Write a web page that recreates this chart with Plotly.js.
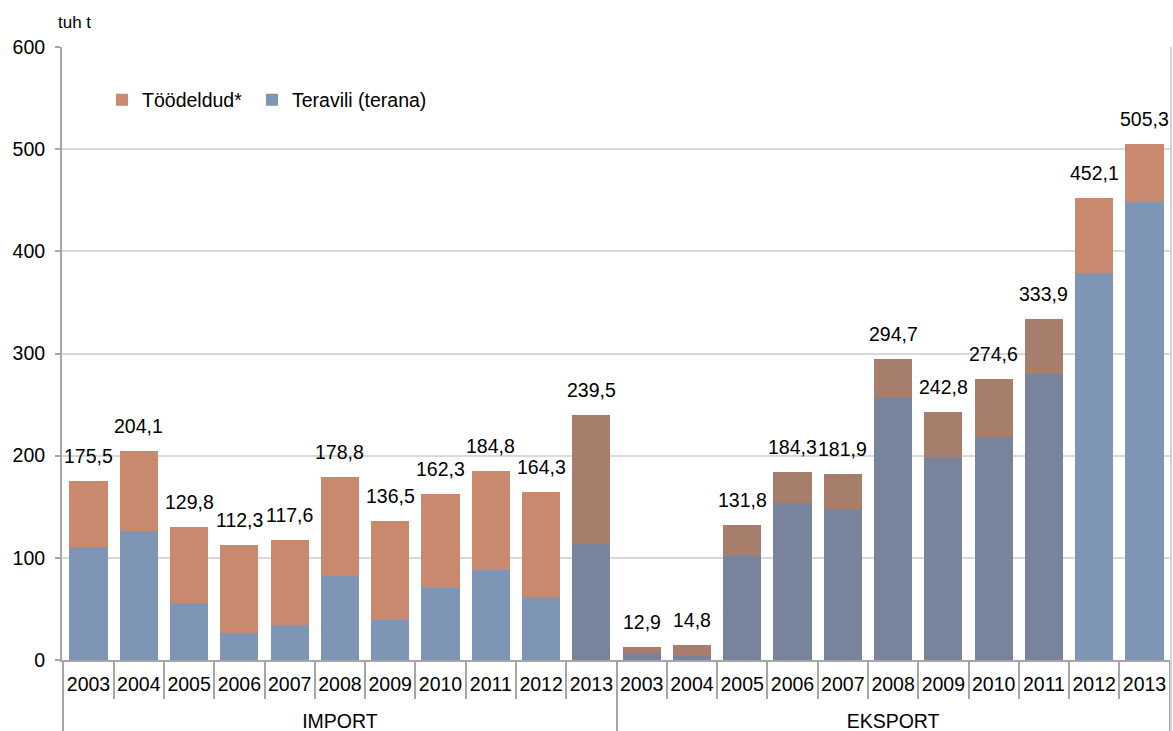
<!DOCTYPE html>
<html>
<head>
<meta charset="utf-8">
<script src="https://cdn.plot.ly/plotly-3.0.1.min.js"></script>
<style>html,body{margin:0;padding:0;background:#fff;}#chart{width:1173px;height:731px;}</style>
</head>
<body>
<div id="chart"></div>
<script>
// ---- data ----
var groups = ["IMPORT","IMPORT","IMPORT","IMPORT","IMPORT","IMPORT","IMPORT","IMPORT","IMPORT","IMPORT","IMPORT",
              "EKSPORT","EKSPORT","EKSPORT","EKSPORT","EKSPORT","EKSPORT","EKSPORT","EKSPORT","EKSPORT","EKSPORT","EKSPORT"];
var years = ["2003","2004","2005","2006","2007","2008","2009","2010","2011","2012","2013",
             "2003","2004","2005","2006","2007","2008","2009","2010","2011","2012","2013"];
var totals = [175.5,204.1,129.8,112.3,117.6,178.8,136.5,162.3,184.8,164.3,239.5,
              12.9,14.8,131.8,184.3,181.9,294.7,242.8,274.6,333.9,452.1,505.3];
var teravili = [111,126.5,55.5,26.7,34.3,82,39,70.5,88,61.4,113.8,
                6.8,4,102,153.7,147.8,256,197.5,218.5,279.5,379,448];
// shaded (darker) bars in the original
var shaded = [false,false,false,false,false,false,false,false,false,false,true,
              true,true,true,true,true,true,true,true,true,false,false];
var toodeldud = totals.map(function(t,i){ return Math.round((t - teravili[i])*10)/10; });
var seriesNames = ["Töödeldud*","Teravili (terana)"];

var brownL = "#C8896F", brownD = "#A67E6B", blueL = "#7F95B5", blueD = "#78849B";
var fontFam = "Liberation Sans, Arial, sans-serif";
var FS = 19.5;

// year labels padded with a tall blank so the group row sits lower (layout only)
var pad = '<span style="font-size:37px">\u00a0</span>';
var yearLabels = years.map(function(y){ return pad + y + pad; });

var traces = [
  { type:"bar", name: seriesNames[1], x:[groups, yearLabels], y: teravili, legend:"legend2",
    marker:{ color: shaded.map(function(s){return s?blueD:blueL;}), line:{width:0} },
    hoverinfo:"y" },
  { type:"bar", name: seriesNames[0], x:[groups, yearLabels], y: toodeldud, legend:"legend",
    marker:{ color: shaded.map(function(s){return s?brownD:brownL;}), line:{width:0} },
    hoverinfo:"y" }
];

var annotations = totals.map(function(t,i){
  return { x: i, y: t, xref:"x", yref:"y", text: t.toFixed(1).replace(".", ","),
           showarrow:false, yshift: 25, font:{size:FS, color:"#000", family:fontFam} };
});
annotations.push({ xref:"paper", yref:"paper", x:-0.005, y:1.04, xanchor:"left", yanchor:"middle",
  text:"tuh t", showarrow:false, font:{size:17, color:"#000", family:fontFam} });

var legendBase = { orientation:"h", y:0.9135, xanchor:"left", yanchor:"middle",
                   font:{size:FS, family:fontFam}, bgcolor:"rgba(0,0,0,0)" };

var layout = {
  width:1173, height:731,
  margin:{l:62, r:2, t:47, b:71},
  paper_bgcolor:"#fff", plot_bgcolor:"#fff",
  font:{family:fontFam, size:FS, color:"#000"},
  barmode:"stack", bargap:0.24,
  showlegend:true,
  legend: Object.assign({x:0.0361}, legendBase),
  legend2: Object.assign({x:0.1713}, legendBase),
  xaxis:{ type:"multicategory", showline:true, linecolor:"#A6A6A6", linewidth:2,
          ticks:"outside", ticklen:37, tickcolor:"#A6A6A6", tickwidth:2,
          tickangle:0, ticklabelstandoff:6,
          showdividers:true, dividercolor:"#A6A6A6", dividerwidth:2,
          tickfont:{size:FS, family:fontFam}, showgrid:false, mirror:false },
  yaxis:{ range:[0,600], dtick:100, tick0:0, showline:true, linecolor:"#A6A6A6", linewidth:2,
          ticks:"outside", ticklen:5, tickcolor:"#A6A6A6", tickwidth:2, ticklabelstandoff:6,
          showgrid:true, gridcolor:"#D9D9D9", gridwidth:2, zeroline:false,
          tickfont:{size:FS, family:fontFam} },
  shapes:[{ type:"line", xref:"paper", yref:"paper", x0:1, x1:1, y0:-0.116, y1:1,
            line:{color:"#D4D4D4", width:2} }],
  annotations: annotations
};

Plotly.newPlot("chart", traces, layout, {displayModeBar:false, staticPlot:true});
</script>
</body>
</html>
